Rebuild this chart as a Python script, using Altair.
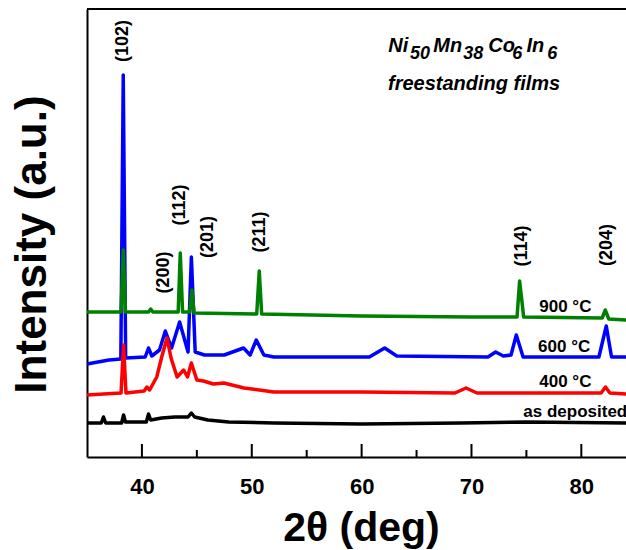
import altair as alt
import pandas as pd

# ---------------- data ----------------
# 2theta (deg) / intensity (a.u.), four annealing states
dep_x = [35.0, 36.3, 36.5, 36.7, 38.15, 38.33, 38.5, 40.4, 40.6, 40.8, 41.8, 43.0, 44.2, 44.5, 44.8, 46.0, 47.9, 52.0, 60.0, 69.0, 75.0, 84.1]
dep_y = [34, 34, 40, 34, 34, 42, 35, 35, 43, 37, 39, 40, 40, 44, 40, 37, 35, 34, 33, 34, 35, 34]

c400_x = [35.0, 36.5, 38.1, 38.33, 38.55, 40.2, 40.45, 40.7, 41.35, 41.8, 42.28, 42.65, 43.2, 43.8, 44.15, 44.5, 45.0, 45.6, 46.5, 47.45, 49.3, 52.0, 60.0, 68.5, 69.5, 70.5, 81.8, 82.2, 82.6, 84.1]
c400_y = [62, 63, 64, 112, 64, 66, 70, 67, 80, 100, 119, 99, 80, 87, 80, 94, 77, 76, 73, 74, 69, 65, 65, 64, 69, 64, 64, 70, 64, 63]

c600_x = [35.0, 36.0, 37.0, 38.08, 38.3, 38.52, 40.3, 40.6, 40.9, 41.6, 42.13, 42.7, 43.43, 44.2, 44.5, 44.85, 45.7, 47.5, 49.25, 49.85, 50.41, 51.1, 52.0, 60.7, 62.1, 63.2, 71.5, 72.2, 72.9, 73.6, 74.08, 74.7, 81.6, 82.27, 82.75, 84.1]
c600_y = [93, 95, 97, 98, 382, 99, 100, 109, 101, 107, 126, 109, 135, 105, 200, 105, 102, 102, 109, 102, 117, 102, 100, 100, 109, 101, 100, 105, 101, 102, 122, 100, 100, 131, 100, 100]

c900_x = [35.0, 38.1, 38.3, 38.5, 40.6, 40.8, 41.0, 43.3, 43.49, 43.7, 44.35, 44.55, 44.75, 50.45, 50.68, 50.9, 60.0, 70.0, 74.15, 74.38, 74.55, 74.75, 81.9, 82.18, 82.5, 84.1]
c900_y = [145, 145, 207, 145, 145, 148, 145, 145, 204, 145, 145, 167, 144, 143, 186, 143, 141, 140, 140, 176, 160, 140, 139, 147, 138, 137]

series_names = ["as deposited", "600 °C", "400 °C", "900 °C"]   # drawing order
series_colors = ["#000000", "#0000FF", "#FF0000", "#008000"]

# peak (hkl) labels
hkl_text = ["(102)", "(200)", "(112)", "(201)", "(211)", "(114)", "(204)"]
hkl_x = [38.32, 42.01, 43.51, 46.06, 50.79, 74.57, 82.38]
hkl_y = [416, 184.5, 252, 220, 225, 211, 212]

# curve labels
cur_text = ["900 °C", "600 °C", "400 °C", "as deposited"]
cur_x = [76.17, 76.06, 76.17, 74.72]
cur_y = [149.7, 110, 75.3, 45.3]

# composition annotation
main_text = ["Ni", "Mn", "Co", "In"]
main_x = [62.43, 66.52, 71.53, 75.0]
main_y = [405.3, 405.3, 405.3, 405.3]
sub_text = ["50", "38", "6", "6"]
sub_x = [64.40, 69.26, 73.72, 76.9]
sub_y = [397.7, 397.7, 397.7, 397.7]
note_text = ["freestanding films"]
note_x = [62.40]
note_y = [367]

major_ticks = [40, 50, 60, 70, 80]
minor_ticks = [45, 55, 65, 75]

# ---------------- build ----------------
W, H = 539, 448
PX_PER_DEG = 10.985
XMAX = 35 + W / PX_PER_DEG
FONT = "Liberation Sans"

xs = alt.Scale(domain=[35, XMAX], nice=False, zero=False)
ys = alt.Scale(domain=[0, H], nice=False, zero=False)

rows = []
for name, xx, yy in [("as deposited", dep_x, dep_y), ("400 °C", c400_x, c400_y),
                     ("600 °C", c600_x, c600_y), ("900 °C", c900_x, c900_y)]:
    for a, b in zip(xx, yy):
        rows.append({"series": name, "tt": a, "inten": b})
df = pd.DataFrame(rows)

x_axis = alt.Axis(values=major_ticks, ticks=False, grid=False, labelFontSize=22,
                  labelFont=FONT, labelFontWeight="bold", labelColor="black",
                  labelPadding=19, labelFlush=False, domainColor="black", domainWidth=2,
                  title="2θ (deg)", titleFont=FONT, titleFontSize=41, titleFontWeight="bold",
                  titleColor="black", titleX=274, titleY=83, titleBaseline="alphabetic",
                  titleAlign="center")
y_axis = alt.Axis(ticks=False, labels=False, grid=False, domainColor="black", domainWidth=2,
                  title="Intensity (a.u.)", titleFont=FONT, titleFontSize=44,
                  titleFontWeight="bold", titleColor="black", titleX=-42, titleY=235,
                  titleAngle=270, titleBaseline="alphabetic", titleAlign="center")

X = alt.X("tt:Q", scale=xs, axis=x_axis)
Y = alt.Y("inten:Q", scale=ys, axis=y_axis)

layers = []
for name, col in zip(series_names, series_colors):
    layer = alt.Chart(df).transform_filter(alt.datum.series == name).mark_line(
        color=col, strokeWidth=3.5, strokeJoin="round"
    ).encode(x=X, y=Y, order="tt:Q")
    layers.append(layer)

tick_df_major = pd.DataFrame({"tt": major_ticks})
tick_df_minor = pd.DataFrame({"tt": minor_ticks})
major = alt.Chart(tick_df_major).mark_rule(color="black", strokeWidth=2).encode(
    x=X, y=alt.value(H), y2=alt.value(H - 13))
minor = alt.Chart(tick_df_minor).mark_rule(color="black", strokeWidth=2).encode(
    x=X, y=alt.value(H), y2=alt.value(H - 7))

top_frame = alt.Chart(pd.DataFrame({"a": [0]})).mark_rule(color="black", strokeWidth=2).encode(
    x=alt.value(0), x2=alt.value(W), y=alt.value(0))

hkl_df = pd.DataFrame({"t": hkl_text, "tt": hkl_x, "inten": hkl_y})
hkl = alt.Chart(hkl_df).mark_text(angle=270, font=FONT, fontSize=18, fontWeight="bold",
                                  color="black", align="center", baseline="middle").encode(
    x=X, y=Y, text="t:N")

cur_df = pd.DataFrame({"t": cur_text, "tt": cur_x, "inten": cur_y})
cur = alt.Chart(cur_df).mark_text(font=FONT, fontSize=17, fontWeight="bold", color="black",
                                  align="left", baseline="middle").encode(
    x=X, y=Y, text="t:N")

def note_layer(texts, xx, yy, size):
    d = pd.DataFrame({"t": texts, "tt": xx, "inten": yy})
    return alt.Chart(d).mark_text(font=FONT, fontSize=size, fontWeight="bold", fontStyle="italic",
                                  color="black", align="left", baseline="alphabetic").encode(
        x=X, y=Y, text="t:N")

formula_main = note_layer(main_text, main_x, main_y, 20)
formula_sub = note_layer(sub_text, sub_x, sub_y, 18)
note = note_layer(note_text, note_x, note_y, 20)

chart = alt.layer(*layers, major, minor, top_frame, hkl, cur, formula_main, formula_sub, note).properties(
    width=W, height=H,
    autosize=alt.AutoSizeParams(type="none"),
    padding={"left": 87, "top": 9, "right": 0, "bottom": 93},
    background="white",
).configure_view(stroke=None)

chart.save("out.html", embed_options={"renderer": "svg", "actions": False})
